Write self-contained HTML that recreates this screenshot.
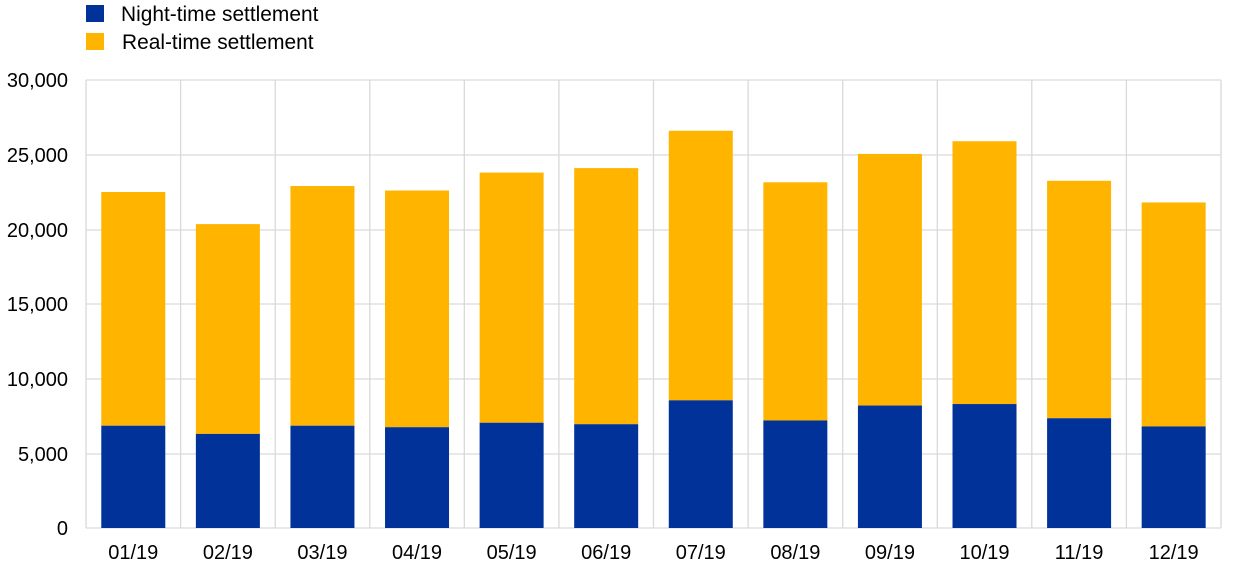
<!DOCTYPE html>
<html><head><meta charset="utf-8"><style>
html,body{margin:0;padding:0;background:#fff;}
svg{display:block;font-family:"Liberation Sans",Arial,sans-serif;}
</style></head><body>
<svg width="1240" height="574" viewBox="0 0 1240 574" xmlns="http://www.w3.org/2000/svg">
<rect x="86" y="5" width="18" height="17" fill="#003299"/>
<text x="121" y="21" font-size="20.9" fill="#000">Night-time settlement</text>
<rect x="86" y="33" width="18" height="17" fill="#FFB400"/>
<text x="122" y="49" font-size="20.9" fill="#000">Real-time settlement</text>
<g stroke="#d9d9d9" stroke-width="1.3" fill="none">
<line x1="86" y1="80" x2="1221" y2="80"/>
<line x1="86" y1="155" x2="1221" y2="155"/>
<line x1="86" y1="230" x2="1221" y2="230"/>
<line x1="86" y1="304" x2="1221" y2="304"/>
<line x1="86" y1="379" x2="1221" y2="379"/>
<line x1="86" y1="454" x2="1221" y2="454"/>
<line x1="86" y1="528" x2="1221" y2="528"/>
<line x1="86" y1="80" x2="86" y2="528"/>
<line x1="180.6" y1="80" x2="180.6" y2="528"/>
<line x1="275.2" y1="80" x2="275.2" y2="528"/>
<line x1="369.8" y1="80" x2="369.8" y2="528"/>
<line x1="464.3" y1="80" x2="464.3" y2="528"/>
<line x1="558.9" y1="80" x2="558.9" y2="528"/>
<line x1="653.5" y1="80" x2="653.5" y2="528"/>
<line x1="748.1" y1="80" x2="748.1" y2="528"/>
<line x1="842.7" y1="80" x2="842.7" y2="528"/>
<line x1="937.3" y1="80" x2="937.3" y2="528"/>
<line x1="1031.8" y1="80" x2="1031.8" y2="528"/>
<line x1="1126.4" y1="80" x2="1126.4" y2="528"/>
<line x1="1221" y1="80" x2="1221" y2="528"/>
</g>
<g font-size="20" fill="#000" text-anchor="end">
<text x="68" y="87">30,000</text>
<text x="68" y="162">25,000</text>
<text x="68" y="237">20,000</text>
<text x="68" y="311">15,000</text>
<text x="68" y="386">10,000</text>
<text x="68" y="461">5,000</text>
<text x="68" y="535">0</text>
</g>
<g id="bars"></g>
<g font-size="20" fill="#000" text-anchor="middle" id="xl"></g>
<script>
var tot=[22500,20350,22900,22600,23800,24100,26600,23150,25050,25900,23250,21800];
var ni=[6850,6300,6850,6750,7050,6950,8550,7200,8200,8300,7350,6800];
var ns="http://www.w3.org/2000/svg",b=document.getElementById("bars"),xl=document.getElementById("xl");
function y(v){return 528-v*448/30000;}
for(var i=0;i<12;i++){var cx=86+94.58*(i+0.5),x=cx-32;
var r=document.createElementNS(ns,"rect");r.setAttribute("x",x);r.setAttribute("width",64);r.setAttribute("y",y(tot[i]));r.setAttribute("height",y(ni[i])-y(tot[i]));r.setAttribute("fill","#FFB400");b.appendChild(r);
r=document.createElementNS(ns,"rect");r.setAttribute("x",x);r.setAttribute("width",64);r.setAttribute("y",y(ni[i]));r.setAttribute("height",528-y(ni[i]));r.setAttribute("fill","#003299");b.appendChild(r);
var t=document.createElementNS(ns,"text");t.setAttribute("x",cx);t.setAttribute("y",559);t.textContent=(i<9?"0":"")+(i+1)+"/19";xl.appendChild(t);}
</script>
</svg>
</body></html>
